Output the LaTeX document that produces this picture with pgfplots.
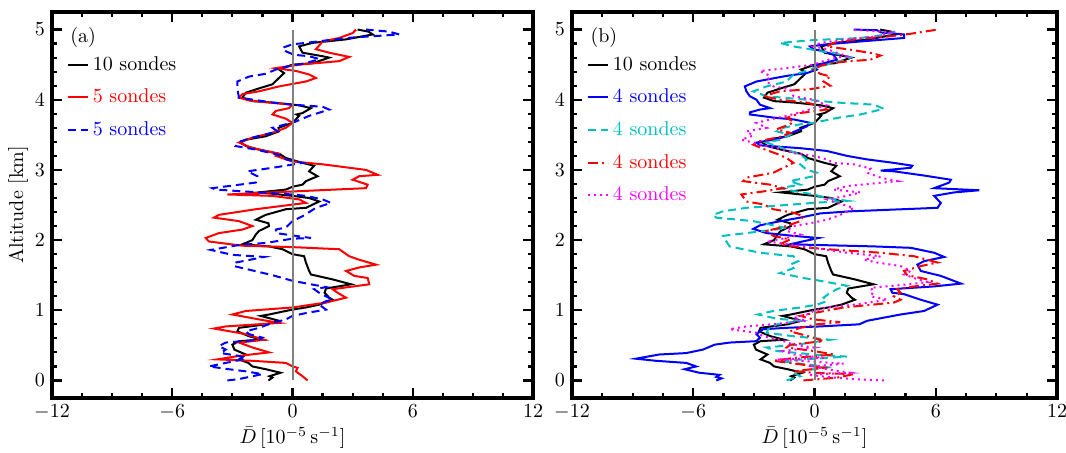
\documentclass[border=0pt]{standalone}
\usepackage{pgfplots}
\usepackage{pgfplotstable}
\pgfplotsset{compat=1.18}
\definecolor{cyanC}{rgb}{0,0.75,0.75}
\definecolor{magentaC}{rgb}{1,0,1}

% mean of all 10 sondes (shared by both panels)
\pgfplotstableread{
x y
-1.2 0.00
-1.0 0.04
-1.15 0.06
-0.6 0.11
-1.33 0.16
-2.0 0.20
-2.2 0.25
-2.67 0.30
-2.33 0.37
-2.9 0.44
-3.0 0.51
-2.67 0.56
-1.5 0.58
-2.17 0.63
-2.75 0.70
-2.67 0.75
-1.33 0.80
-0.67 0.85
-1.58 0.92
-1.17 0.94
0 1.01
0.67 1.04
1.33 1.08
2.0 1.15
1.83 1.18
1.6 1.25
1.67 1.31
2.92 1.37
2.0 1.44
0.92 1.51
0.83 1.56
0.67 1.68
0.58 1.77
0 1.80
-0.5 1.87
-1.17 1.91
-2.5 1.94
-2.0 2.00
-1.83 2.08
-1.67 2.13
-1.17 2.20
-1.2 2.24
-1.83 2.29
-1.33 2.36
-0.33 2.44
0.67 2.46
1.33 2.55
0.83 2.60
0 2.63
-1.67 2.68
-0.33 2.72
0 2.76
0.5 2.79
0.67 2.84
1.25 2.91
0.83 2.98
1.08 3.06
0.5 3.10
-0.33 3.17
-0.67 3.23
-1.67 3.29
-2.33 3.34
-2.58 3.39
-2.33 3.43
-1.33 3.48
-0.67 3.55
-0.7 3.60
0 3.67
0.33 3.77
0.2 3.79
0.5 3.81
0.92 3.88
0.33 3.92
-1.0 3.96
-2.0 3.98
-2.5 4.03
-2.33 4.10
-1.58 4.17
-1.0 4.22
-0.75 4.29
-0.42 4.38
-0.67 4.43
0 4.50
1.0 4.52
1.83 4.60
1.5 4.62
0.5 4.67
0.33 4.76
1.0 4.81
2.67 4.86
4.0 4.93
3.8 4.97
3.25 5.00
}\tabAll

% panel (a): two groups of 5 sondes
\pgfplotstableread{
x y
0.75 0.00
0.5 0.06
0.17 0.13
0.25 0.18
0 0.20
-0.33 0.25
-2.0 0.28
-3.75 0.30
-2.67 0.35
-1.17 0.40
-2.0 0.47
-2.67 0.54
-2.0 0.56
-1.42 0.58
-2.33 0.66
-3.92 0.74
-3.33 0.77
-0.67 0.82
-1.67 0.87
-3.0 0.94
-2.33 0.99
0 1.04
1.67 1.11
2.67 1.18
2.25 1.25
2.0 1.30
3.83 1.37
3.75 1.46
3.08 1.49
2.67 1.56
3.33 1.61
4.17 1.65
3.33 1.72
2.83 1.77
2.33 1.87
0 1.90
-2.5 1.92
-4.17 1.98
-4.33 2.03
-3.67 2.10
-2.5 2.15
-2.0 2.20
-2.67 2.27
-3.92 2.32
-3.67 2.36
-1.83 2.44
0.67 2.53
0.33 2.58
-1.0 2.63
-3.25 2.65
-1.0 2.68
3.67 2.74
3.75 2.79
3.0 2.86
3.33 2.91
4.25 2.93
3.67 3.00
1.5 3.08
0 3.12
-0.83 3.20
-0.67 3.23
-2.0 3.31
-2.67 3.39
-2.0 3.46
-1.0 3.53
-0.33 3.60
0 3.67
-0.33 3.73
-1.0 3.79
-0.83 3.84
-0.17 3.88
0 3.93
-1.17 3.96
-2.17 3.99
-2.67 4.03
-2.5 4.08
-1.67 4.12
-0.67 4.19
0.67 4.26
1.17 4.31
0.83 4.36
0.17 4.41
-0.83 4.45
0.33 4.50
2.33 4.55
2.83 4.61
1.83 4.67
1.17 4.72
1.5 4.83
2.33 4.88
3.0 4.95
3.17 5.00
}\tabRedA

\pgfplotstableread{
x y
-3.25 0.00
-2.67 0.02
-1.5 0.09
-2.33 0.13
-3.17 0.16
-4.17 0.20
-3.33 0.25
-2.33 0.31
-2.67 0.35
-3.58 0.39
-3.33 0.44
-3.67 0.49
-3.33 0.54
-1.67 0.58
-1.5 0.61
-2.17 0.66
-2.33 0.70
-1.67 0.75
-1.0 0.82
-0.33 0.87
0 0.92
0.67 0.96
1.67 1.01
1.33 1.08
1.67 1.13
2.0 1.15
1.33 1.25
1.08 1.30
1.67 1.33
0 1.42
-1.0 1.50
-2.92 1.63
-2.83 1.68
-1.42 1.76
-3.0 1.79
-4.08 1.86
-2.67 1.93
-1.33 1.96
0 2.02
0.92 2.03
0.17 2.06
-0.83 2.10
-0.83 2.15
-0.33 2.18
0 2.27
0.5 2.34
1.17 2.46
1.92 2.53
1.5 2.58
0.67 2.63
0 2.65
-1.67 2.68
-3.83 2.72
-4.0 2.74
-1.83 2.82
-1.75 2.91
-2.25 2.98
-1.0 3.03
0.5 3.10
-0.33 3.15
-0.75 3.22
-1.83 3.29
-2.83 3.34
-2.67 3.40
-2.0 3.46
-1.0 3.53
-0.75 3.55
-1.0 3.60
-0.33 3.65
0.17 3.69
0.83 3.77
1.83 3.86
1.5 3.90
0 3.93
-1.0 3.96
-2.67 4.03
-2.75 4.15
-2.75 4.26
-2.17 4.33
-1.33 4.37
-0.83 4.43
-0.17 4.48
0.67 4.52
1.33 4.58
0.83 4.62
0.08 4.64
-0.33 4.69
-0.5 4.74
0 4.79
0.67 4.81
2.67 4.88
5.33 4.93
4.83 4.97
3.67 5.00
}\tabBlueA

% panel (b): four groups of 4 sondes
\pgfplotstableread{
x y
-4.86 0.00
-4.6 0.03
-4.86 0.05
-4.7 0.08
-5.7 0.11
-6.43 0.16
-5.85 0.20
-6.35 0.25
-7.84 0.28
-8.84 0.31
-7.68 0.37
-6.35 0.39
-5.52 0.44
-4.94 0.51
-4.2 0.54
-2.87 0.56
-2.7 0.61
-2.87 0.66
-2.54 0.73
-1.38 0.75
0.28 0.77
2.22 0.80
2.6 0.85
4.26 0.94
5.42 0.99
6.09 1.08
5.26 1.15
4.43 1.23
3.85 1.25
3.76 1.30
5.92 1.34
7.25 1.38
6.25 1.49
5.26 1.56
5.09 1.65
5.42 1.70
6.42 1.76
5.92 1.82
4.76 1.89
2.94 1.91
-1.21 1.94
-0.6 1.98
0.2 2.03
-1.04 2.06
-2.37 2.10
-3.03 2.16
-2.7 2.21
-1.87 2.26
-0.71 2.32
0.28 2.38
1.77 2.41
6.09 2.46
6.25 2.53
5.92 2.63
6.92 2.68
8.16 2.71
5.92 2.74
6.67 2.82
6.75 2.86
5.42 2.92
3.93 2.98
3.27 2.99
4.76 3.03
4.84 3.06
3.93 3.10
2.6 3.15
1.61 3.20
0.61 3.27
-0.71 3.31
-2.7 3.35
-2.87 3.39
-2.04 3.43
-1.38 3.48
-1.04 3.54
-0.38 3.62
-0.2 3.67
-1.04 3.72
-1.87 3.74
-3.2 3.79
-3.2 3.82
-2.7 3.86
-2.2 3.88
-2.7 3.93
-2.87 4.00
-3.2 4.05
-3.37 4.12
-3.45 4.19
-2.87 4.26
-1.38 4.34
-0.38 4.38
0.12 4.43
-0.05 4.48
0.45 4.52
1.11 4.57
0.94 4.64
0.45 4.69
-0.05 4.72
-0.22 4.76
0.61 4.79
2.27 4.83
4.43 4.88
4.43 4.93
3.27 4.96
3.1 4.99
1.94 5.00
}\tabBlueB

\pgfplotstableread{
x y
-1.38 0.00
-0.71 0.06
-1.04 0.11
-0.05 0.16
0.61 0.19
-0.05 0.22
-1.04 0.25
-1.71 0.28
-0.55 0.30
1.61 0.34
-0.05 0.37
-1.87 0.42
-2.37 0.47
-0.88 0.51
0.78 0.58
-1.04 0.63
-2.37 0.68
-2.29 0.73
-1.87 0.80
-0.71 0.85
-1.87 0.88
-2.79 0.94
-2.04 0.99
-0.71 1.04
0.12 1.08
0.61 1.13
0.45 1.18
0.78 1.25
1.11 1.30
1.61 1.35
0.28 1.42
-0.55 1.46
-1.71 1.53
-1.04 1.60
-1.21 1.65
-0.8 1.70
-1.04 1.77
-2.7 1.82
-4.2 1.91
-4.36 1.98
-4.53 2.06
-3.37 2.10
-1.38 2.17
-3.03 2.27
-4.86 2.32
-5.02 2.36
-4.53 2.41
-3.37 2.46
-1.87 2.49
-0.05 2.53
1.61 2.56
0.61 2.60
-0.05 2.65
-1.04 2.70
-1.71 2.74
-0.71 2.79
-1.21 2.84
-0.05 2.91
0.12 2.96
-0.38 3.00
-0.71 3.08
-0.38 3.15
-0.71 3.22
-1.21 3.27
-1.87 3.34
-2.37 3.39
-1.71 3.43
-1.21 3.50
-1.87 3.55
-1.54 3.60
-0.71 3.65
-0.05 3.67
1.11 3.74
2.27 3.79
3.43 3.87
2.94 3.93
1.11 3.96
-0.38 4.00
-2.37 4.05
-3.03 4.12
-2.37 4.19
-1.38 4.26
-1.04 4.36
-0.38 4.41
-0.05 4.45
0.61 4.50
1.28 4.55
1.77 4.60
0.94 4.67
0.28 4.69
-0.05 4.71
-1.04 4.76
-1.71 4.81
-0.05 4.85
2.27 4.88
3.6 4.93
4.1 4.99
}\tabCyanB

\pgfplotstableread{
x y
-0.55 0.00
1.11 0.04
1.94 0.09
-0.05 0.11
-1.04 0.13
0.45 0.18
-0.7 0.23
-2.04 0.28
-1.04 0.32
0.95 0.37
-0.05 0.42
-1.38 0.47
-1.2 0.51
0.45 0.56
-0.05 0.61
-1.21 0.70
-0.71 0.75
0.12 0.80
1.28 0.83
-0.05 0.87
-0.71 0.92
-0.05 0.96
1.44 1.04
3.93 1.11
4.26 1.15
3.93 1.20
4.26 1.25
4.09 1.30
4.92 1.34
6.09 1.38
5.59 1.44
4.59 1.50
4.43 1.56
5.26 1.63
6.09 1.68
5.59 1.72
4.92 1.77
3.27 1.82
0.61 1.87
-1.04 1.91
-1.71 1.94
-1.21 2.01
-2.04 2.06
-2.37 2.13
-1.38 2.20
-0.71 2.27
-0.55 2.34
-1.04 2.39
-2.04 2.44
-2.54 2.51
-3.37 2.55
-3.62 2.65
-2.37 2.70
-1.54 2.74
-2.2 2.79
-3.53 2.84
-3.37 2.89
-2.04 2.96
-1.54 3.03
-1.04 3.10
-1.38 3.17
-1.87 3.23
-2.54 3.30
-3.03 3.36
-2.7 3.41
-1.71 3.47
-1.21 3.53
-1.87 3.58
-1.21 3.65
-1.04 3.69
-1.38 3.74
-0.71 3.81
0.61 3.86
0.12 3.92
-0.38 3.96
-1.71 4.00
-2.54 4.05
-1.71 4.12
-0.22 4.15
0.78 4.20
0.45 4.26
0.78 4.33
0.28 4.37
-0.05 4.43
0.28 4.48
0.78 4.52
1.77 4.55
2.77 4.57
3.27 4.63
2.9 4.66
2.27 4.69
1.61 4.72
0.61 4.76
0.95 4.81
2.27 4.87
3.6 4.90
4.76 4.94
6.09 5.00
}\tabRedB

\pgfplotstableread{
x y
3.43 0.00
1.94 0.02
0.61 0.05
-0.22 0.08
1.77 0.11
0.61 0.16
-0.05 0.20
1.44 0.24
-0.71 0.28
-1.87 0.30
0.45 0.32
-1.04 0.37
-1.54 0.42
-0.05 0.47
-1.04 0.51
-1.71 0.58
-2.54 0.63
-2.87 0.68
-4.2 0.73
-3.37 0.77
-1.71 0.81
-0.38 0.85
-1.04 0.89
-0.38 0.94
-0.05 0.99
0.61 1.04
1.94 1.08
2.94 1.12
3.6 1.15
2.77 1.20
2.94 1.27
2.77 1.32
3.93 1.35
5.59 1.40
4.92 1.46
4.43 1.51
4.76 1.56
4.26 1.63
3.1 1.68
2.44 1.72
3.27 1.77
1.61 1.82
-0.05 1.89
-1.21 1.94
-2.37 1.98
-1.38 2.03
-0.71 2.08
-1.38 2.13
-1.04 2.20
-0.05 2.25
0.61 2.29
1.28 2.36
1.94 2.46
1.11 2.53
0.61 2.58
1.61 2.63
2.27 2.68
0.95 2.72
1.61 2.77
4.1 2.84
3.27 2.89
2.6 2.96
2.77 3.02
1.94 3.08
0.95 3.10
0.61 3.15
-0.05 3.20
-1.04 3.24
-1.71 3.30
-2.37 3.34
-3.03 3.39
-3.62 3.43
-3.03 3.49
-3.37 3.55
-2.37 3.60
-2.87 3.67
-2.04 3.73
-1.38 3.77
-0.71 3.82
-0.05 3.88
0.61 3.92
0.28 3.96
-0.05 4.00
-1.04 4.05
-1.21 4.15
-2.04 4.19
-2.37 4.26
-2.2 4.34
-2.7 4.41
-1.38 4.45
-0.05 4.50
0.45 4.55
1.11 4.60
1.61 4.62
1.11 4.67
0.61 4.72
-0.05 4.76
0.28 4.81
1.61 4.86
3.1 4.90
3.76 4.96
1.94 5.00
}\tabMagB

\pgfplotsset{
  panel/.style={
    scale only axis,
    anchor=south west,
    height=193pt,
    xmin=-12, xmax=12,
    ymin=-0.25, ymax=5.25,
    xtick={-12,-6,0,6,12},
    ytick={0,1,2,3,4,5},
    minor x tick num=3,
    minor y tick num=4,
    tick align=inside,
    axis line style={line width=2pt},
    major tick length=5pt,
    minor tick length=2.5pt,
    every tick/.style={black, line width=1.1pt},
    xlabel={$\bar{D}\,[10^{-5}\,\mathrm{s}^{-1}]$},
    xlabel shift=-3pt,
    ylabel shift=-3.5pt,
    legend cell align=left,
    legend style={draw=none, fill=none, at={(rel axis cs:0.03,0.897)}, anchor=north west,
      inner sep=0pt, row sep=3.9pt},
    legend image code/.code={\draw[#1] (0pt,0pt) -- (10pt,0pt);},
  },
  curve/.style={line width=1pt},
}

\begin{document}
\begin{tikzpicture}
\path[use as bounding box] (0,0) rectangle (533pt,226pt);

\begin{axis}[panel, at={(26pt,27pt)}, width=240.5pt, ylabel={Altitude [km]},
  legend entries={\textcolor{black}{10 sondes},\textcolor{red}{5 sondes},\textcolor{blue}{5 sondes}}]
\addplot[curve, black] table[x=x,y=y]{\tabAll};
\addplot[curve, red] table[x=x,y=y]{\tabRedA};
\addplot[curve, blue, dash pattern=on 4pt off 2.5pt] table[x=x,y=y]{\tabBlueA};
\addplot[forget plot, gray, line width=1pt] coordinates {(0,0) (0,5)};
\node[anchor=north west, inner sep=0pt] at (axis cs:-11.1,5.04) {(a)};
\end{axis}

\begin{axis}[panel, at={(286pt,27pt)}, width=242.5pt,
  legend entries={\textcolor{black}{10 sondes},\textcolor{blue}{4 sondes},\textcolor{cyanC}{4 sondes},\textcolor{red}{4 sondes},\textcolor{magentaC}{4 sondes}}]
\addplot[curve, black] table[x=x,y=y]{\tabAll};
\addplot[curve, blue] table[x=x,y=y]{\tabBlueB};
\addplot[curve, cyanC, dash pattern=on 4pt off 2.5pt] table[x=x,y=y]{\tabCyanB};
\addplot[curve, red, dash pattern=on 5pt off 2pt on 1pt off 2pt] table[x=x,y=y]{\tabRedB};
\addplot[curve, magentaC, dash pattern=on 1pt off 2pt] table[x=x,y=y]{\tabMagB};
\addplot[forget plot, gray, line width=1pt] coordinates {(0,0) (0,5)};
\node[anchor=north west, inner sep=0pt] at (axis cs:-11.1,5.04) {(b)};
\end{axis}
\end{tikzpicture}
\end{document}
